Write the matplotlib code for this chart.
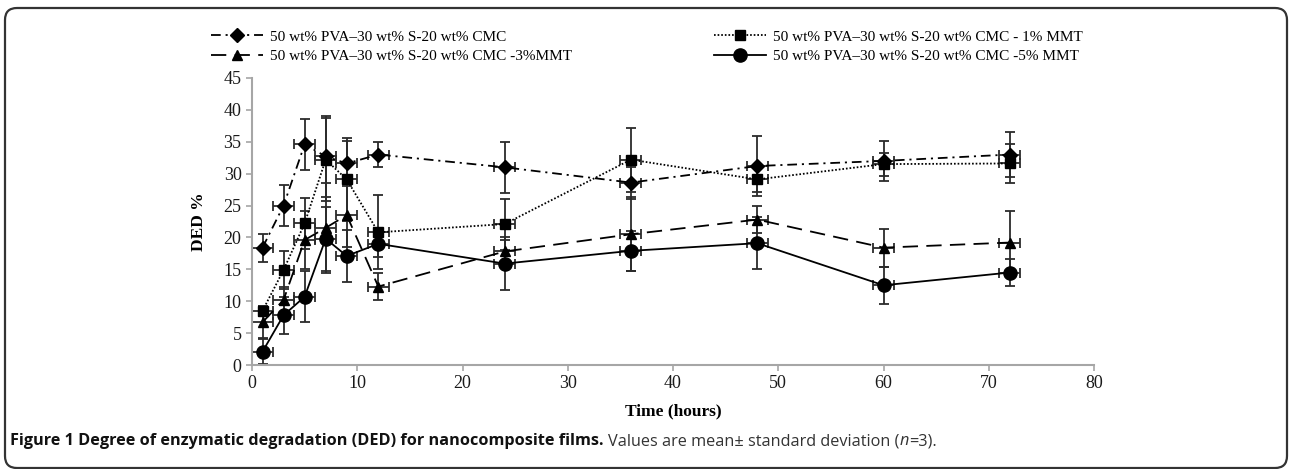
import matplotlib
matplotlib.use("Agg")
import matplotlib.pyplot as plt
from matplotlib.patches import FancyBboxPatch
from matplotlib.transforms import IdentityTransform

# sampling times (hours) and the +-1 h horizontal spread
time_h = [1, 3, 5, 7, 9, 12, 24, 36, 48, 60, 72]
time_err = [1, 1, 1, 1, 1, 1, 1, 1, 1, 1, 1]

labels = [
    "50 wt% PVA\u201330 wt% S-20 wt% CMC",
    "50 wt% PVA\u201330 wt% S-20 wt% CMC - 1% MMT",
    "50 wt% PVA\u201330 wt% S-20 wt% CMC -3%MMT",
    "50 wt% PVA\u201330 wt% S-20 wt% CMC -5% MMT",
]

# DED % (mean) and standard deviation for each film
ded_0 = [18.4, 25.0, 34.6, 32.7, 31.6, 33.0, 31.0, 28.6, 31.2, 32.0, 33.0]
sd_0 = [2.2, 3.2, 4.0, 6.4, 3.5, 2.0, 4.0, 2.5, 4.7, 3.2, 3.5]

ded_1 = [8.5, 14.9, 22.2, 32.2, 29.1, 20.8, 22.1, 32.2, 29.1, 31.5, 31.6]
sd_1 = [0.8, 3.0, 4.0, 6.5, 6.5, 5.8, 4.0, 5.0, 2.0, 1.8, 3.0]

ded_3 = [6.7, 10.2, 19.6, 21.5, 23.5, 12.3, 17.8, 20.5, 22.8, 18.4, 19.2]
sd_3 = [2.5, 2.0, 4.5, 7.0, 5.0, 2.1, 1.8, 5.8, 2.1, 3.0, 5.0]

ded_5 = [2.1, 7.8, 10.7, 19.8, 17.1, 19.0, 15.9, 17.9, 19.1, 12.5, 14.5]
sd_5 = [1.9, 2.9, 4.0, 5.0, 4.1, 2.0, 4.1, 3.1, 4.1, 2.9, 2.1]

plt.rcParams["lines.scale_dashes"] = False
serif = ["Liberation Serif", "DejaVu Serif"]

fig = plt.figure(figsize=(12.89, 4.69), dpi=100)
ax = fig.add_axes([252 / 1289, 104 / 469, 842 / 1289, 287 / 469])

styles = [
    dict(marker="D", ms=7.5, ls=(0, (7, 3.5, 1.5, 3.5))),
    dict(marker="s", ms=7.5, ls=(0, (1.2, 1.4))),
    dict(marker="^", ms=7.5, ls=(0, (11, 6))),
    dict(marker="o", ms=9.5, ls="-"),
]
series = [(ded_0, sd_0), (ded_1, sd_1), (ded_3, sd_3), (ded_5, sd_5)]

handles = []
for (ded, sd), st, lab in zip(series, styles, labels):
    cont = ax.errorbar(time_h, ded, yerr=sd, xerr=time_err,
                       color="black", ecolor="#2b2b2b", elinewidth=1.3,
                       capsize=3.5, capthick=1.3, lw=1.3,
                       marker=st["marker"], ms=st["ms"], ls=st["ls"],
                       label=lab)
    handles.append(cont.lines[0])

ax.set_xlim(0, 80)
ax.set_ylim(0, 45)
ax.set_xticks(range(0, 81, 10))
ax.set_yticks(range(0, 46, 5))
for side in ["top", "right"]:
    ax.spines[side].set_visible(False)
for side in ["left", "bottom"]:
    ax.spines[side].set_color("#a6a6a6")
    ax.spines[side].set_linewidth(1.5)
ax.tick_params(direction="out", length=4, width=1.2, color="#a6a6a6",
               labelsize=13, labelcolor="#1a1a1a")
for lbl in ax.get_xticklabels() + ax.get_yticklabels():
    lbl.set_family(serif)

ax.set_xlabel("Time (hours)", fontsize=12.5, fontweight="bold", family=serif)
ax.set_ylabel("DED %", fontsize=12.5, fontweight="bold", family=serif)
ax.xaxis.set_label_coords(0.5, -0.135)
ax.yaxis.set_label_coords(-0.053, 0.5)

# legend: column-wise order S0, S3 | S1, S5
leg = fig.legend([handles[0], handles[2], handles[1], handles[3]],
                 [labels[0], labels[2], labels[1], labels[3]],
                 ncol=2, loc="center left",
                 bbox_to_anchor=(211 / 1289, 1 - 46.5 / 469),
                 frameon=False, borderpad=0, borderaxespad=0,
                 handlelength=3.4, handletextpad=0.45, columnspacing=9.3,
                 labelspacing=0.35, numpoints=1,
                 prop={"family": serif, "size": 11})

# rounded frame around the figure (bottom and right edges sit at the border)
frame = FancyBboxPatch((5, 1), 1282, 460, boxstyle="round,pad=0,rounding_size=12",
                       transform=IdentityTransform(), fill=False,
                       edgecolor="#333333", linewidth=1.6)
fig.patches.append(frame)

# caption built from pieces
caption = [
    ("Figure 1 Degree of enzymatic degradation (DED) for nanocomposite films.",
     dict(fontweight="bold", color="#111111"), 5),
    ("Values are mean\u00b1 standard deviation (", dict(color="#333333"), 0),
    ("n", dict(color="#333333", style="italic"), 0),
    ("=3).", dict(color="#333333"), 0),
]
renderer = fig.canvas.get_renderer()
x = 10
for txt, kw, gap in caption:
    t = fig.text(x / 1289, 1 - 441 / 469, txt, va="center", ha="left",
                 family=["Open Sans", "DejaVu Sans"], fontsize=11.7, **kw)
    bb = t.get_window_extent(renderer)
    x += bb.width + gap

fig.savefig("out.png", dpi=100)
